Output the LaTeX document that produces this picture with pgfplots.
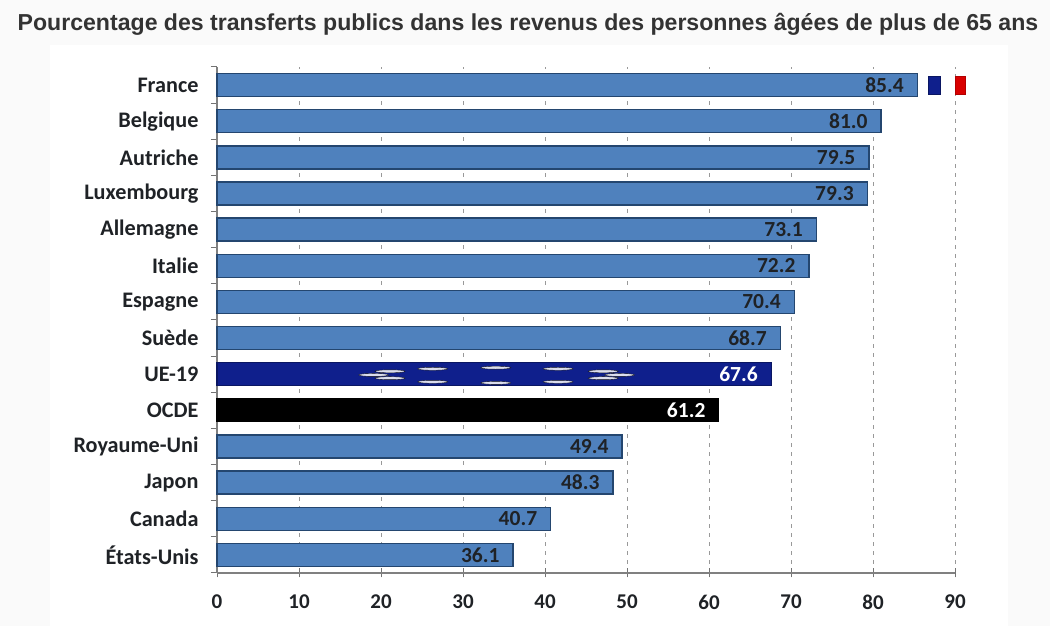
\documentclass[border=0pt]{standalone}
\usepackage{fontspec}
\usepackage{pgfplots}
\pgfplotsset{compat=1.18}
\setmainfont{Carlito}
\newfontfamily\titlefont{Liberation Sans}
\definecolor{barblue}{HTML}{4F81BD}
\definecolor{barline}{HTML}{24466F}
\definecolor{ueblue}{HTML}{0F1F8C}
\definecolor{txt}{HTML}{1F2226}
\definecolor{panel}{HTML}{FAFAFA}
\begin{document}
\begin{tikzpicture}
\useasboundingbox (0pt,0pt) rectangle (1050pt,626pt);
\fill[panel] (0pt,0pt) rectangle (1050pt,626pt);
\fill[white] (50pt,0pt) rectangle (1008pt,581pt);
\node[font=\titlefont\bfseries\fontsize{23.1}{25}\selectfont,text=black!80,anchor=center] at (528pt,602pt) {Pourcentage des transferts publics dans les revenus des personnes âgées de plus de 65 ans};
\begin{axis}[
  at={(217pt,53pt)},anchor=south west,
  scale only axis,width=738pt,height=506pt,
  xmin=0,xmax=90,ymin=0,ymax=14,
  clip=false,
  axis lines=left,
  axis line style={draw=black!50,line width=1.1pt,-},
  xtick={0,10,...,90},
  ytick={0.5,1.5,...,13.5},
  minor ytick={0,1,...,14},
  yticklabels={États-Unis,Canada,Japon,Royaume-Uni,OCDE,UE-19,Suède,Espagne,Italie,Allemagne,Luxembourg,Autriche,Belgique,France},
  xmajorgrids,
  grid style={draw=black!40,dash pattern=on 4pt off 5pt,line width=0.8pt},
  major y tick style={draw=none},
  minor y tick style={draw=black!55,line width=1pt},
  major x tick style={draw=black!55,line width=1pt},
  minor tick length=6pt,
  major tick length=9pt,
  xtick align=center,
  ytick align=outside,
  yticklabel style={font=\bfseries\fontsize{22.2}{23}\selectfont,text=txt,xshift=-6pt},
  xticklabel style={font=\bfseries\fontsize{21}{23}\selectfont,text=txt,yshift=-14pt},
  /pgf/number format/assume math mode=true,
  nodes near coords style={font=\bfseries\fontsize{21.5}{23}\selectfont,anchor=east,xshift=-9.5pt,/pgf/number format/fixed,/pgf/number format/fixed zerofill,/pgf/number format/precision=1},
]
\addplot[xbar,bar shift=0pt,bar width=23pt,fill=barblue,draw=barline,line width=1.5pt,nodes near coords,nodes near coords style={text=txt}] coordinates {
(36.1,0.5)(40.7,1.5)(48.3,2.5)(49.4,3.5)(68.7,6.5)(70.4,7.5)(72.2,8.5)(73.1,9.5)(79.3,10.5)(79.5,11.5)(81.0,12.5)(85.4,13.5)};
\addplot[xbar,bar shift=0pt,bar width=23pt,fill=ueblue,draw=ueblue!70!black,line width=1.5pt,nodes near coords,nodes near coords style={text=white}] coordinates {(67.6,5.5)};
\addplot[xbar,bar shift=0pt,bar width=23pt,fill=black,draw=black,line width=1.2pt,nodes near coords,nodes near coords style={text=white}] coordinates {(61.2,4.5)};
% EU stars, flattened as in the reference
\addplot[only marks,mark=*,mark size=3pt,mark options={xscale=5,yscale=0.5,fill=white,draw=none,opacity=0.85}] coordinates {
(19.1,5.48)(21.1,5.58)(21.1,5.39)(26.3,5.65)(26.3,5.29)(34,5.68)(34,5.26)(41.6,5.65)(41.6,5.29)(47.1,5.58)(47.1,5.39)(49.1,5.48)};
% small flag beside the France bar
\addplot[fill=ueblue,draw=ueblue!70!black,line width=1pt] coordinates {(86.8,13.25)(88.2,13.25)(88.2,13.75)(86.8,13.75)} --cycle;
\addplot[fill=red!85!black,draw=red!70!black,line width=1pt] coordinates {(90,13.25)(91.3,13.25)(91.3,13.75)(90,13.75)} --cycle;
\end{axis}
\end{tikzpicture}
\end{document}
